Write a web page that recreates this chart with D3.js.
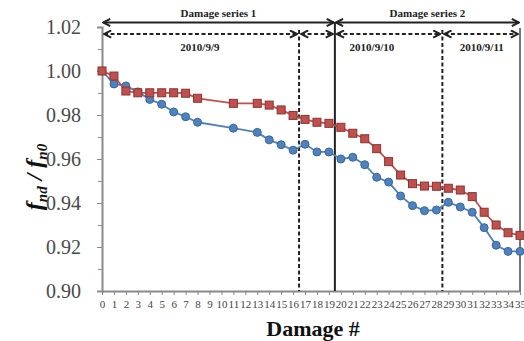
<!DOCTYPE html>
<html>
<head>
<meta charset="utf-8">
<script src="https://cdn.jsdelivr.net/npm/d3@7"></script>
<style>
  body { margin: 0; background: #fff; }
  svg text { font-family: "Liberation Serif", "Times New Roman", Times, "DejaVu Serif", serif !important; }
  .axis path, .axis line { stroke: #8a8a8a; }
</style>
</head>
<body>
<div id="container"></div>
<script>
// damage step numbers that have a measurement
var damageNo = [0,1,2,3,4,5,6,7,8,11,13,14,15,16,17,18,19,20,21,22,23,24,25,26,27,28,29,30,31,32,33,34,35];
// red squares
var seriesRed = [1.000,0.9977,0.9909,0.9901,0.9901,0.9901,0.9901,0.9899,0.9876,0.9853,0.9853,0.9845,0.9823,0.9798,0.9780,0.9767,0.9762,
                 0.9744,0.9717,0.9692,0.9647,0.9588,0.9527,0.9488,0.9477,0.9476,0.9467,0.9459,0.9429,0.9358,0.9300,0.9265,0.9253];
// blue circles
var seriesBlue = [1.000,0.9941,0.9932,0.9905,0.9871,0.9849,0.9814,0.9792,0.9767,0.9740,0.9721,0.9687,0.9665,0.9640,0.9667,0.9632,0.9632,
                  0.9600,0.9608,0.9574,0.9517,0.9495,0.9432,0.9388,0.9365,0.9368,0.9403,0.9382,0.9358,0.9288,0.9208,0.9180,0.9180];
var yTicks = [0.90,0.92,0.94,0.96,0.98,1.00,1.02];
var yMinor = [0.91,0.93,0.95,0.97,0.99,1.01];
var xTicks = d3.range(0, 36);
// boundaries between groups (in damage #)
var seriesSpans = [{label:"Damage series 1", from:0, to:19.5}, {label:"Damage series 2", from:19.5, to:35}];
var daySpans = [{label:"2010/9/9", from:0, to:16.5, tx:8.2}, {label:"", from:16.5, to:19.5},
                {label:"2010/9/10", from:19.5, to:28.5, tx:22.6}, {label:"2010/9/11", from:28.5, to:35, tx:31.8}];
var dashedBounds = [16.5, 28.5];
var solidBounds = [19.5, 35];

var width = 524, height = 341;
var margin = {top: 27, right: 4, bottom: 50, left: 102};
var x = d3.scaleLinear().domain([0, 35]).range([margin.left, width - margin.right]);
var y = d3.scaleLinear().domain([0.90, 1.02]).range([height - margin.bottom, margin.top]);

var svg = d3.select("#container").append("svg")
    .attr("width", width).attr("height", height);

var defs = svg.append("defs");
["end", "start"].forEach(function(k) {
    defs.append("marker")
        .attr("id", "arr-" + k)
        .attr("viewBox", "0 0 10 10")
        .attr("refX", k == "end" ? 9 : 1).attr("refY", 5)
        .attr("markerWidth", 4.5).attr("markerHeight", 4.5)
        .attr("markerUnits", "strokeWidth")
        .attr("orient", "auto")
        .append("path")
        .attr("d", k == "end" ? "M1,1 L9,5 L1,9" : "M9,1 L1,5 L9,9")
        .attr("fill", "none").attr("stroke", "#222").attr("stroke-width", 2.2);
});

// axes
var yAxis = d3.axisLeft(y).tickValues(yTicks).tickSize(5).tickPadding(16).tickFormat(d3.format(".2f"));
var gy = svg.append("g").attr("class", "y axis")
    .attr("transform", "translate(" + margin.left + ",0)")
    .call(yAxis);
gy.select(".domain").attr("stroke-width", 2);
gy.selectAll("text").style("font-size", "20px").attr("fill", "#4a4a4a");
svg.append("g").attr("class", "y axis minor")
    .attr("transform", "translate(" + margin.left + ",0)")
    .call(d3.axisLeft(y).tickValues(yMinor).tickSize(4).tickFormat(""))
    .select(".domain").remove();

var xAxis = d3.axisBottom(x).tickValues(xTicks).tickSize(4).tickSizeOuter(0).tickPadding(5);
var gx = svg.append("g").attr("class", "x axis")
    .attr("transform", "translate(0," + y(0.90) + ")")
    .call(xAxis);
gx.select(".domain").attr("stroke-width", 2);
gx.selectAll("text").style("font-size", "11px").attr("fill", "#444");

// group boundary lines
svg.selectAll(".dashb").data(dashedBounds).enter().append("line")
    .attr("x1", function(d) { return x(d); }).attr("x2", function(d) { return x(d); })
    .attr("y1", margin.top + 3).attr("y2", y(0.90))
    .attr("stroke", "#222").attr("stroke-width", 2).attr("stroke-dasharray", "4,2.5");
svg.selectAll(".solidb").data(solidBounds).enter().append("line")
    .attr("x1", function(d) { return x(d); }).attr("x2", function(d) { return x(d); })
    .attr("y1", function(d, i) { return i == 0 ? margin.top - 5 : margin.top + 1; }).attr("y2", y(0.90))
    .attr("stroke", function(d, i) { return i == 0 ? "#222" : "#777"; }).attr("stroke-width", 2);

// series arrows
svg.selectAll(".sarrow").data(seriesSpans).enter().append("line")
    .attr("x1", function(d) { return x(d.from) + 1; }).attr("x2", function(d) { return x(d.to) - 1; })
    .attr("y1", margin.top - 4.5).attr("y2", margin.top - 4.5)
    .attr("stroke", "#222").attr("stroke-width", 2)
    .attr("marker-start", "url(#arr-start)").attr("marker-end", "url(#arr-end)");
svg.selectAll(".slabel").data(seriesSpans).enter().append("text")
    .attr("x", function(d) { return (x(d.from) + x(d.to)) / 2; })
    .attr("y", margin.top - 10)
    .attr("text-anchor", "middle")
    .style("font-size", "11px").style("font-weight", "bold").attr("fill", "#222")
    .text(function(d) { return d.label; });

// day arrows
svg.selectAll(".darrow").data(daySpans).enter().append("line")
    .attr("x1", function(d) { return x(d.from) + 2; }).attr("x2", function(d) { return x(d.to) - 2; })
    .attr("y1", margin.top + 7).attr("y2", margin.top + 7)
    .attr("stroke", "#222").attr("stroke-width", 2).attr("stroke-dasharray", "4,2.5")
    .attr("marker-start", "url(#arr-start)").attr("marker-end", "url(#arr-end)");
svg.selectAll(".dlabel").data(daySpans.filter(function(d) { return d.label; })).enter().append("text")
    .attr("x", function(d) { return x(d.tx); })
    .attr("y", margin.top + 24)
    .attr("text-anchor", "middle")
    .style("font-size", "11px").style("font-weight", "bold").attr("fill", "#222")
    .text(function(d) { return d.label; });

// lines + markers
var blueData = damageNo.map(function(d, i) { return {n: d, v: seriesBlue[i]}; });
var redData = damageNo.map(function(d, i) { return {n: d, v: seriesRed[i]}; });
var line = d3.line()
    .x(function(d) { return x(d.n); })
    .y(function(d) { return y(d.v); });

svg.append("path").datum(blueData)
    .attr("d", line).attr("fill", "none").attr("stroke", "#4f81bd").attr("stroke-width", 1.8);
svg.selectAll(".bpt").data(blueData).enter().append("circle")
    .attr("cx", function(d) { return x(d.n); }).attr("cy", function(d) { return y(d.v); })
    .attr("r", 4).attr("fill", "#4f81bd").attr("stroke", "#3a679c").attr("stroke-width", 1);

svg.append("path").datum(redData)
    .attr("d", line).attr("fill", "none").attr("stroke", "#c0504d").attr("stroke-width", 1.8);
svg.selectAll(".rpt").data(redData).enter().append("rect")
    .attr("x", function(d) { return x(d.n) - 4; }).attr("y", function(d) { return y(d.v) - 4; })
    .attr("width", 8).attr("height", 8)
    .attr("fill", "#c0504d").attr("stroke", "#8c3431").attr("stroke-width", 1);

// axis titles
svg.append("text")
    .attr("x", 313)
    .attr("y", height - 5)
    .attr("text-anchor", "middle")
    .style("font-size", "22px").style("font-weight", "bold").attr("fill", "#111")
    .text("Damage #");

var yt = svg.append("text")
    .attr("transform", "translate(42,177) rotate(-90)")
    .attr("text-anchor", "middle")
    .style("font-weight", "bold").style("font-style", "italic").attr("fill", "#111");
yt.append("tspan").style("font-size", "24px").text("f");
yt.append("tspan").style("font-size", "15px").attr("dy", 5).text("nd");
yt.append("tspan").style("font-size", "24px").attr("dy", -5).text(" / ");
yt.append("tspan").style("font-size", "24px").text("f");
yt.append("tspan").style("font-size", "15px").attr("dy", 5).text("n0");
</script>
</body>
</html>
